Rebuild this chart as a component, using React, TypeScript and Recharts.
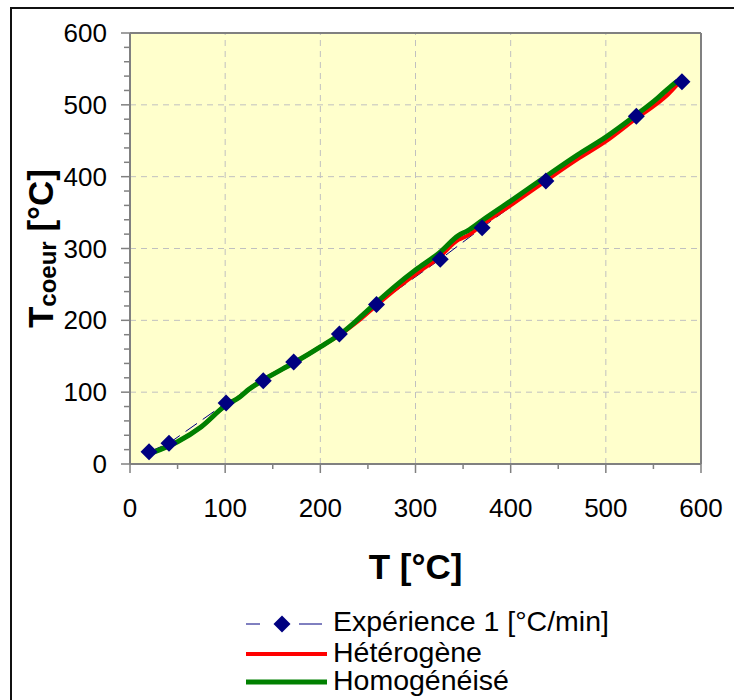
import React from "react";
import {
  ComposedChart, Line, XAxis, YAxis, CartesianGrid, ReferenceLine, Legend, Label,
} from "recharts";

// Measured core temperature, first experiment
const expT = [20, 41, 101, 140, 172, 220, 259, 326, 370, 437, 532, 580];
const expCore = [17, 29, 85, 116, 142, 181, 222, 285, 329, 394, 484, 532];

// Simulated core temperature, heterogeneous vs homogenised model
const simT = [22, 50, 75, 100, 115, 125, 140, 160, 175, 200, 225, 240, 260, 280, 300, 325, 345, 355, 370, 400, 440, 470, 500, 530, 555, 565, 575];
const heteroCore = [15, 31, 52, 81, 93, 104, 117, 132, 143, 163, 184, 199, 222, 244, 264, 288, 312, 318, 333, 360, 397, 424, 449, 479, 503, 514, 528];
const homoCore = [15, 31, 52, 81, 93, 104, 117, 132, 143, 163, 185, 202, 226, 249, 270, 294, 318, 325, 339, 366, 403, 430, 455, 484, 510, 522, 533];

const majorTicks = [0, 100, 200, 300, 400, 500, 600];
const gridValues = [100, 200, 300, 400, 500];
const xMinorStep = 50;
const yMinorStep = 20;

const labels = {
  exp: "Expérience 1 [°C/min]",
  hetero: "Hétérogène",
  homo: "Homogénéisé",
};

const FONT = "'Liberation Sans', Arial, sans-serif";
const AXIS = "#808080";
const NAVY = "#000080";

const xTicks = Array.from({ length: 600 / xMinorStep + 1 }, (_, i) => i * xMinorStep);
const yTicks = Array.from({ length: 600 / yMinorStep + 1 }, (_, i) => i * yMinorStep);

const expData = expT.map((t, i) => ({ t, v: expCore[i] }));
const heteroData = simT.map((t, i) => ({ t, v: heteroCore[i] }));
const homoData = simT.map((t, i) => ({ t, v: homoCore[i] }));

function XTick({ x, y, payload }: any) {
  const major = majorTicks.includes(payload.value);
  return (
    <g>
      <line x1={x} x2={x} y1={y} y2={y + (major ? 9 : 5)} stroke={AXIS} strokeWidth={1.5} />
      {major && (
        <text x={x} y={y + 53} textAnchor="middle" fontSize={26} fontFamily={FONT} fill="#000">
          {payload.value}
        </text>
      )}
    </g>
  );
}

function YTick({ x, y, payload }: any) {
  const major = majorTicks.includes(payload.value);
  return (
    <g>
      <line x1={x - (major ? 9 : 6)} x2={x} y1={y} y2={y} stroke={AXIS} strokeWidth={1.5} />
      {major && (
        <text x={x - 23} y={y + 9} textAnchor="end" fontSize={26} fontFamily={FONT} fill="#000">
          {payload.value}
        </text>
      )}
    </g>
  );
}

function Diamond({ cx, cy }: any) {
  if (cx == null || cy == null) return null;
  const r = 8.5;
  return <path d={`M${cx},${cy - r}L${cx + r},${cy}L${cx},${cy + r}L${cx - r},${cy}Z`} fill={NAVY} />;
}

function YTitle({ viewBox }: any) {
  const cx = viewBox.x - 17;
  const cy = viewBox.y + viewBox.height / 2;
  return (
    <text
      x={cx} y={cy} transform={`rotate(-90, ${cx}, ${cy})`}
      textAnchor="middle" fontFamily={FONT} fontWeight="bold" fontSize={35} fill="#000"
    >
      T<tspan fontSize={24} dy={3}>coeur</tspan><tspan dy={-3}> [°C]</tspan>
    </text>
  );
}

function XTitle({ viewBox }: any) {
  return (
    <text
      x={viewBox.x + viewBox.width / 2} y={579}
      textAnchor="middle" fontFamily={FONT} fontWeight="bold" fontSize={35} fill="#000"
    >
      T [°C]
    </text>
  );
}

function LegendBox() {
  const txt = { fontFamily: FONT, fontSize: 28.5, fill: "#000" };
  return (
    <svg width={734} height={100}>
      <line x1={246} x2={260} y1={24} y2={24} stroke={NAVY} strokeWidth={1} />
      <line x1={299} x2={322} y1={24} y2={24} stroke={NAVY} strokeWidth={1} />
      <Diamond cx={282} cy={24} />
      <text x={333} y={31} {...txt}>{labels.exp}</text>
      <line x1={246} x2={327} y1={54} y2={54} stroke="#FF0000" strokeWidth={4} />
      <text x={333} y={62} {...txt}>{labels.hetero}</text>
      <line x1={246} x2={327} y1={82} y2={82} stroke="#008000" strokeWidth={5} />
      <text x={333} y={90} {...txt}>{labels.homo}</text>
    </svg>
  );
}

export default function App() {
  return (
    <div style={{ position: "absolute", left: 0, top: 0, width: 734, height: 700, background: "#fff", overflow: "hidden" }}>
      <div
        style={{
          position: "absolute", left: 10, top: 7, width: 740, height: 700,
          borderTop: "2px solid #111", borderLeft: "2px solid #111",
        }}
      />
      <div style={{ position: "absolute", left: 0, top: 0 }}>
        <ComposedChart width={734} height={700} margin={{ top: 33, right: 33, bottom: 196, left: 70 }}>
          <CartesianGrid fill="#FFFFCC" horizontal={false} vertical={false} />
          {gridValues.map((v) => (
            <ReferenceLine key={`gx${v}`} x={v} stroke="#C0C0C0" strokeDasharray="6 5" />
          ))}
          {gridValues.map((v) => (
            <ReferenceLine key={`gy${v}`} y={v} stroke="#C0C0C0" strokeDasharray="6 5" />
          ))}
          <ReferenceLine x={600} stroke={AXIS} strokeWidth={2} />
          <ReferenceLine y={600} stroke={AXIS} strokeWidth={2} />
          <XAxis
            dataKey="t" type="number" domain={[0, 600]} ticks={xTicks} interval={0}
            height={40} tickSize={0} tickMargin={0} tickLine={false}
            axisLine={{ stroke: AXIS, strokeWidth: 2 }} tick={<XTick />} allowDataOverflow
          >
            <Label content={<XTitle />} />
          </XAxis>
          <YAxis
            type="number" domain={[0, 600]} ticks={yTicks} interval={0}
            width={60} tickSize={0} tickMargin={0} tickLine={false}
            axisLine={{ stroke: AXIS, strokeWidth: 2 }} tick={<YTick />} allowDataOverflow
          >
            <Label content={<YTitle />} />
          </YAxis>
          <Line
            data={expData} dataKey="v" name={labels.exp} stroke={NAVY} strokeWidth={1}
            strokeDasharray="14 7" dot={false} activeDot={false} isAnimationActive={false}
          />
          <Line
            data={heteroData} dataKey="v" name={labels.hetero} type="monotone" stroke="#FF0000"
            strokeWidth={4} dot={false} activeDot={false} isAnimationActive={false}
          />
          <Line
            data={homoData} dataKey="v" name={labels.homo} type="monotone" stroke="#008000"
            strokeWidth={5} dot={false} activeDot={false} isAnimationActive={false}
          />
          <Line
            data={expData} dataKey="v" stroke="none" legendType="none" dot={<Diamond />}
            activeDot={false} isAnimationActive={false}
          />
          <Legend
            layout="vertical" align="center" verticalAlign="middle" content={<LegendBox />}
            wrapperStyle={{ position: "absolute", left: 0, top: 600, width: 734, height: 100 }}
          />
        </ComposedChart>
      </div>
    </div>
  );
}
